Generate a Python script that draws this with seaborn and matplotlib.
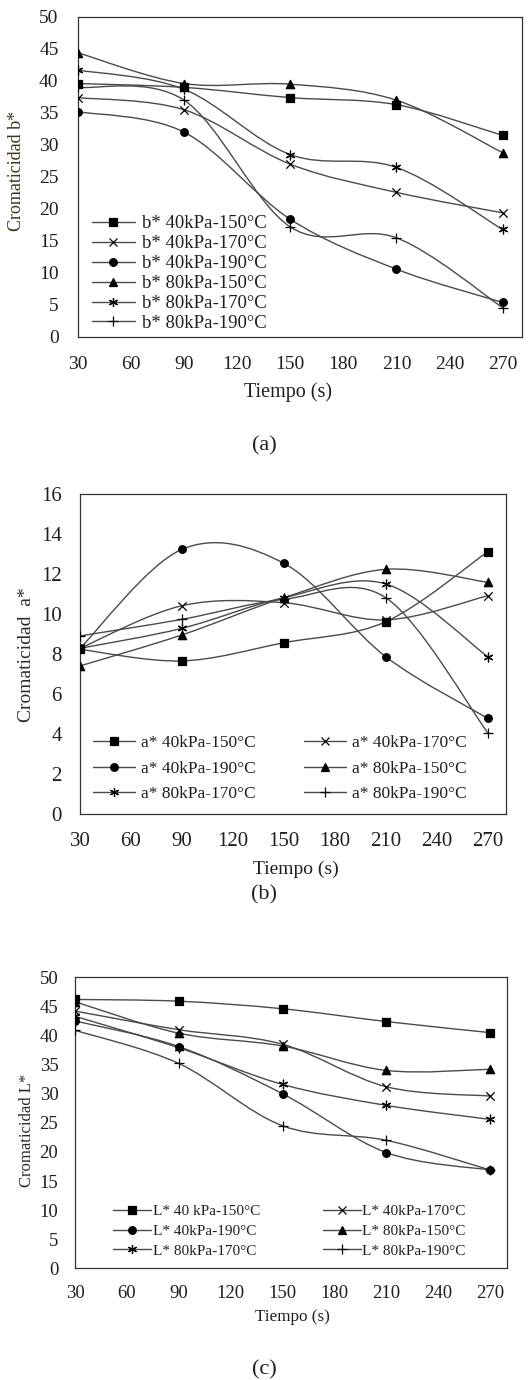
import matplotlib
matplotlib.use("Agg")
import matplotlib.pyplot as plt
from matplotlib.path import Path
from matplotlib.patches import PathPatch
from matplotlib.lines import Line2D
import numpy as np
import seaborn as sns

tiempo = [30, 90, 150, 210, 270]
x_ticks = [30, 60, 90, 120, 150, 180, 210, 240, 270]

# (a) cromaticidad b*
b_40_150 = [39.6, 39.0, 37.4, 36.3, 31.5]
b_40_170 = [37.4, 35.5, 27.0, 22.6, 19.4]
b_40_190 = [35.2, 32.0, 18.4, 10.6, 5.4]
b_80_150 = [44.4, 39.6, 39.5, 37.0, 28.8]
b_80_170 = [41.7, 38.7, 28.5, 26.5, 16.8]
b_80_190 = [39.0, 37.0, 17.2, 15.5, 4.6]
b_labels = ["b* 40kPa-150°C", "b* 40kPa-170°C", "b* 40kPa-190°C",
            "b* 80kPa-150°C", "b* 80kPa-170°C", "b* 80kPa-190°C"]

# (b) cromaticidad a*
a_40_150 = [8.25, 7.67, 8.58, 9.63, 13.13]
a_40_170 = [8.3, 10.43, 10.58, 9.72, 10.93]
a_40_190 = [8.3, 13.25, 12.55, 7.88, 4.8]
a_80_150 = [7.42, 8.97, 10.83, 12.25, 11.6]
a_80_170 = [8.3, 9.3, 10.83, 11.52, 7.88]
a_80_190 = [8.92, 9.75, 10.75, 10.83, 4.08]
a_labels = ["a* 40kPa-150°C", "a* 40kPa-170°C", "a* 40kPa-190°C",
            "a* 80kPa-150°C", "a* 80kPa-170°C", "a* 80kPa-190°C"]

# (c) cromaticidad L*
L_40_150 = [46.2, 45.9, 44.6, 42.4, 40.5]
L_40_170 = [44.2, 41.0, 38.5, 31.2, 29.6]
L_40_190 = [42.5, 38.1, 30.0, 19.9, 16.9]
L_80_150 = [45.8, 40.4, 38.2, 34.0, 34.2]
L_80_170 = [43.3, 37.9, 31.6, 28.0, 25.6]
L_80_190 = [40.9, 35.2, 24.5, 22.0, 16.9]
L_labels = ["L* 40 kPa-150°C", "L* 40kPa-170°C", "L* 40kPa-190°C",
            "L* 80kPa-150°C", "L* 80kPa-170°C", "L* 80kPa-190°C"]

sns.set_style("white")
plt.rcParams["font.family"] = ["Liberation Serif", "DejaVu Serif"]

TXT = "#1e1e26"
LINE = "#4a4a4a"
markers = ["s", "x", "o", "^", (6, 2, 0), "+"]
msizes = [36, 36, 30, 36, 40, 48]
leg_ms = [6, 6, 5.5, 6, 6.5, 7]


def smooth_path(xs, ys):
    # excel-style smoothed line (bezier through the points)
    pts = np.column_stack([xs, ys]).astype(float)
    n = len(pts)
    verts = [pts[0]]
    codes = [Path.MOVETO]
    for i in range(n - 1):
        p0 = pts[max(i - 1, 0)]
        p1 = pts[i]
        p2 = pts[i + 1]
        p3 = pts[min(i + 2, n - 1)]
        verts += [p1 + (p2 - p0) / 6, p2 - (p3 - p1) / 6, p2]
        codes += [Path.CURVE4] * 3
    return Path(verts, codes)


def draw_panel(ax, series, labels, ylim, ystep, ylabel, cfg):
    for vals, m, s in zip(series, markers, msizes):
        ax.add_patch(PathPatch(smooth_path(tiempo, vals), fill=False,
                               edgecolor=LINE, lw=1.0, zorder=2))
        kw = dict(edgecolor="black") if m in ("s", "o", "^") else {}
        sns.scatterplot(x=tiempo, y=vals, marker=m, s=s, color="black",
                        linewidth=0.9, ax=ax, zorder=3, legend=False, **kw)

    ax.set_xlim(30, cfg["xmax"])
    ax.set_ylim(*ylim)
    ax.set_xticks(x_ticks)
    ax.set_yticks(np.arange(ylim[0], ylim[1] + 0.1, ystep))
    ax.set_xticklabels([str(t) for t in x_ticks])
    ax.tick_params(axis="both", length=0, colors=TXT, labelsize=cfg["tick_fs"])
    ax.tick_params(axis="x", pad=cfg["xpad"])
    ax.tick_params(axis="y", pad=cfg["ypad"])
    for sp in ax.spines.values():
        sp.set_color("#333333")
        sp.set_linewidth(0.9)

    ax.set_ylabel(ylabel, fontsize=cfg["lab_fs"], color=cfg["ylab_color"])
    ax.yaxis.set_label_coords(*cfg["ylab_xy"])
    ax.set_xlabel("Tiempo (s)", fontsize=cfg["xlab_fs"], color=TXT)
    ax.xaxis.set_label_coords(*cfg["xlab_xy"])

    handles = [Line2D([], [], color=LINE, lw=1.0, marker=m, ms=ms,
                      markerfacecolor="black", markeredgecolor="black",
                      markeredgewidth=0.9)
               for m, ms in zip(markers, leg_ms)]
    labs = list(labels)
    if cfg["ncol"] == 2:
        order = [0, 2, 4, 1, 3, 5]
        handles = [handles[i] for i in order]
        labs = [labs[i] for i in order]
    leg = ax.legend(handles, labs, loc="center left", bbox_to_anchor=cfg["leg_xy"],
                    ncol=cfg["ncol"], frameon=False, fontsize=cfg["leg_fs"],
                    borderpad=0, borderaxespad=0, handlelength=cfg["hl"],
                    handletextpad=cfg["htp"], labelspacing=cfg["ls"],
                    columnspacing=cfg["cs"])
    for t in leg.get_texts():
        t.set_color(TXT)


fig = plt.figure(figsize=(5.29, 13.8), dpi=100)

ax_a = fig.add_axes([0.1474, 0.7558, 0.8394, 0.2319])
draw_panel(ax_a, [b_40_150, b_40_170, b_40_190, b_80_150, b_80_170, b_80_190],
           b_labels, (0, 50), 5, "Cromaticidad b*",
           dict(xmax=281, tick_fs=14, xpad=13.5, ypad=14, lab_fs=13,
                ylab_color="#3d3422", ylab_xy=(-0.119, 0.52), xlab_fs=14.5,
                xlab_xy=(0.473, -0.14), ncol=1,
                leg_xy=(0.031, 0.198), leg_fs=13.5, hl=2.3, htp=0.37,
                ls=0.15, cs=2.0))

ax_b = fig.add_axes([0.1512, 0.4099, 0.8048, 0.2319])
draw_panel(ax_b, [a_40_150, a_40_170, a_40_190, a_80_150, a_80_170, a_80_190],
           a_labels, (0, 16), 2, "Cromaticidad  a*",
           dict(xmax=280.6, tick_fs=15, xpad=12.5, ypad=13, lab_fs=14,
                ylab_color="#2e2a26", ylab_xy=(-0.106, 0.5), xlab_fs=14,
                xlab_xy=(0.507, -0.145), ncol=2,
                leg_xy=(0.0305, 0.143), leg_fs=12.5, hl=2.4, htp=0.35,
                ls=0.55, cs=2.8))

ax_c = fig.add_axes([0.1418, 0.0809, 0.8172, 0.2109])
draw_panel(ax_c, [L_40_150, L_40_170, L_40_190, L_80_150, L_80_170, L_80_190],
           L_labels, (0, 50), 5, "Cromaticidad L*",
           dict(xmax=280, tick_fs=13.5, xpad=12, ypad=12, lab_fs=12,
                ylab_color="#2e2a26", ylab_xy=(-0.093, 0.475), xlab_fs=12.3,
                xlab_xy=(0.504, -0.14), ncol=2,
                leg_xy=(0.088, 0.128), leg_fs=11, hl=2.5, htp=0.1,
                ls=0.4, cs=4.1))

for lab, ypix in [("(a)", 445.5), ("(b)", 895), ("(c)", 1370)]:
    fig.text(264 / 529, 1 - ypix / 1380, lab, ha="center", va="center",
             fontsize=16, color=TXT)

fig.savefig("out.png", dpi=100)
